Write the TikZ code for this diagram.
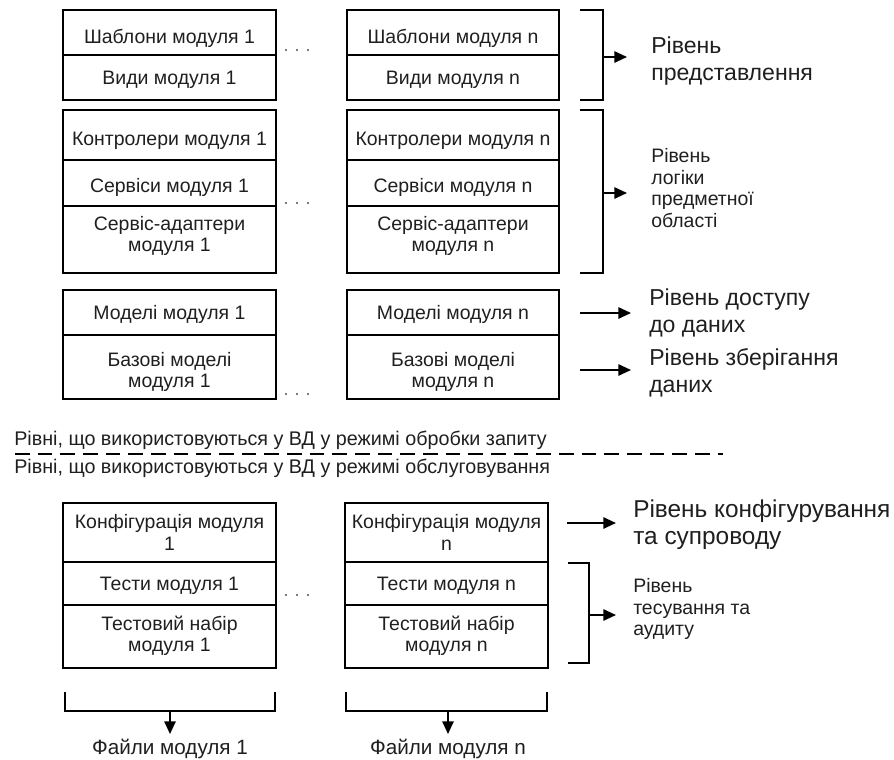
\documentclass[tikz,border=0pt]{standalone}
\usepackage{fontspec}
\setmainfont{Liberation Sans}
\usetikzlibrary{arrows.meta}
% one cell of a module column: name, x1, y1, x2, y2, text (pixel units)
\newcommand\cellnode[7][]{%
  \node[cell, minimum width={(#5-#3)*0.75pt}, minimum height={(#6-#4)*0.75pt}]
    (#2) at ({(#3+#5)/2},{(#4+#6)/2}) {};
  \node[celltext, #1] at (#2.center) {#7};}
\begin{document}
\begin{tikzpicture}[x=0.75pt,y=-0.75pt,
  every node/.style={text=black!88},
  cell/.style={draw, line width=1.4pt, inner sep=0pt},
  celltext/.style={inner sep=0pt, align=center, text depth=0pt,
    font=\fontsize{14.6}{16}\selectfont},
  lnk/.style={line width=1.4pt, -{Triangle[length=9.5pt,width=8.5pt]}},
  brk/.style={line width=1.4pt},
  big/.style={align=left, anchor=west, inner sep=0pt, font=\fontsize{17.3}{20}\selectfont},
  small/.style={align=left, anchor=west, inner sep=0pt, font=\fontsize{14.6}{16.2}\selectfont},
  plain/.style={inner sep=0pt, font=\fontsize{14.8}{16}\selectfont},
  dot/.style={fill=black!70, draw=none},
]
\useasboundingbox (0,0) rectangle (894,760);

% ---- module 1 column ----
\cellnode[yshift=-3pt]{tplA}{63}{10}{276}{55}{Шаблони модуля 1}
\cellnode{viewA}{63}{55}{276}{100}{Види модуля 1}
\cellnode[yshift=-3pt]{ctrlA}{63}{110}{276}{160}{Контролери модуля 1}
\cellnode[yshift=-2pt]{srvA}{63}{160}{276}{206}{Сервіси модуля 1}
\cellnode[yshift=4pt]{adpA}{63}{206}{276}{273}{Сервіс-адаптери\\модуля 1}
\cellnode{mdlA}{63}{290}{276}{335}{Моделі модуля 1}
\cellnode[yshift=-2pt]{baseA}{63}{335}{276}{399}{Базові моделі\\модуля 1}
\cellnode{cfgA}{63}{503}{276}{562}{Конфігурація модуля\\1}
\cellnode{tstA}{63}{562}{276}{605}{Тести модуля 1}
\cellnode[yshift=2pt]{setA}{63}{605}{276}{668}{Тестовий набір\\модуля 1}

% ---- module n column ----
\cellnode[yshift=-3pt]{tplN}{347}{10}{559}{55}{Шаблони модуля n}
\cellnode{viewN}{347}{55}{559}{100}{Види модуля n}
\cellnode[yshift=-3pt]{ctrlN}{347}{110}{559}{160}{Контролери модуля n}
\cellnode[yshift=-2pt]{srvN}{347}{160}{559}{206}{Сервіси модуля n}
\cellnode[yshift=4pt]{adpN}{347}{206}{559}{273}{Сервіс-адаптери\\модуля n}
\cellnode{mdlN}{347}{290}{559}{335}{Моделі модуля n}
\cellnode[yshift=-2pt]{baseN}{347}{335}{559}{399}{Базові моделі\\модуля n}
\cellnode{cfgN}{345}{503}{548}{562}{Конфігурація модуля\\n}
\cellnode{tstN}{345}{562}{548}{605}{Тести модуля n}
\cellnode[yshift=2pt]{setN}{345}{605}{548}{668}{Тестовий набір\\модуля n}

% ---- ellipsis dots between the columns ----
\foreach \yy in {50,203,394,595}{
  \foreach \xx in {286,297,308}{
    \fill[dot] (\xx,\yy) circle (1.1);
  }
}

% ---- layer labels ----
\node[big]   (lblPres)   at (651,61)  {Рівень\\представлення};
\node[small] (lblLogic)  at (651,188) {Рівень\\логіки\\предметної\\області};
\node[big]   (lblAccess) at (649,313) {Рівень доступу\\до даних};
\node[big]   (lblStore)  at (649,373) {Рівень зберігання\\даних};
\node[big, font=\fontsize{18.3}{20}\selectfont]
             (lblConf)   at (633,525) {Рівень конфігурування\\та супроводу};
\node[small] (lblTest)   at (633,609) {Рівень\\тесування та\\аудиту};

% ---- brackets and arrows to the labels ----
\draw[brk] (580,10) -- (603,10) -- (603,100) -- (580,100);
\coordinate (p1) at (603,57);  \coordinate (q1) at (627,57);
\draw[lnk] (p1) -- (q1);

\draw[brk] (580,110) -- (603,110) -- (603,273) -- (580,273);
\coordinate (p2) at (603,193); \coordinate (q2) at (627,193);
\draw[lnk] (p2) -- (q2);

\coordinate (p3) at (580,313); \coordinate (q3) at (631,313);
\draw[lnk] (p3) -- (q3);
\coordinate (p4) at (580,370); \coordinate (q4) at (631,370);
\draw[lnk] (p4) -- (q4);

\coordinate (p5) at (567,523); \coordinate (q5) at (616,523);
\draw[lnk] (p5) -- (q5);

\draw[brk] (568,563) -- (589,563) -- (589,663) -- (568,663);
\coordinate (p6) at (589,615); \coordinate (q6) at (616,615);
\draw[lnk] (p6) -- (q6);

% ---- mode separator ----
\node[plain, anchor=base west] (modeReq) at (14,445)
  {Рівні, що використовуються у ВД у режимі обробки запиту};
\coordinate (sepL) at (15,454); \coordinate (sepR) at (723,454);
\draw[line width=1.4pt, dash pattern=on 11pt off 6pt] (sepL) -- (sepR);
\node[plain, anchor=base west] (modeSrv) at (14,473)
  {Рівні, що використовуються у ВД у режимі обслуговування};

% ---- module files ----
\draw[brk] (65,692) -- (65,711) -- (275,711) -- (275,692);
\node[plain, anchor=base, font=\fontsize{15.5}{16}\selectfont] (filesA) at (170,754) {Файли модуля 1};
\coordinate (fa) at (170,711); \coordinate (fb) at (170,734);
\draw[lnk] (fa) -- (fb);

\draw[brk] (346,692) -- (346,711) -- (547,711) -- (547,692);
\node[plain, anchor=base, font=\fontsize{15.5}{16}\selectfont] (filesN) at (448,754) {Файли модуля n};
\coordinate (fc) at (448,711); \coordinate (fd) at (448,734);
\draw[lnk] (fc) -- (fd);
\end{tikzpicture}
\end{document}
